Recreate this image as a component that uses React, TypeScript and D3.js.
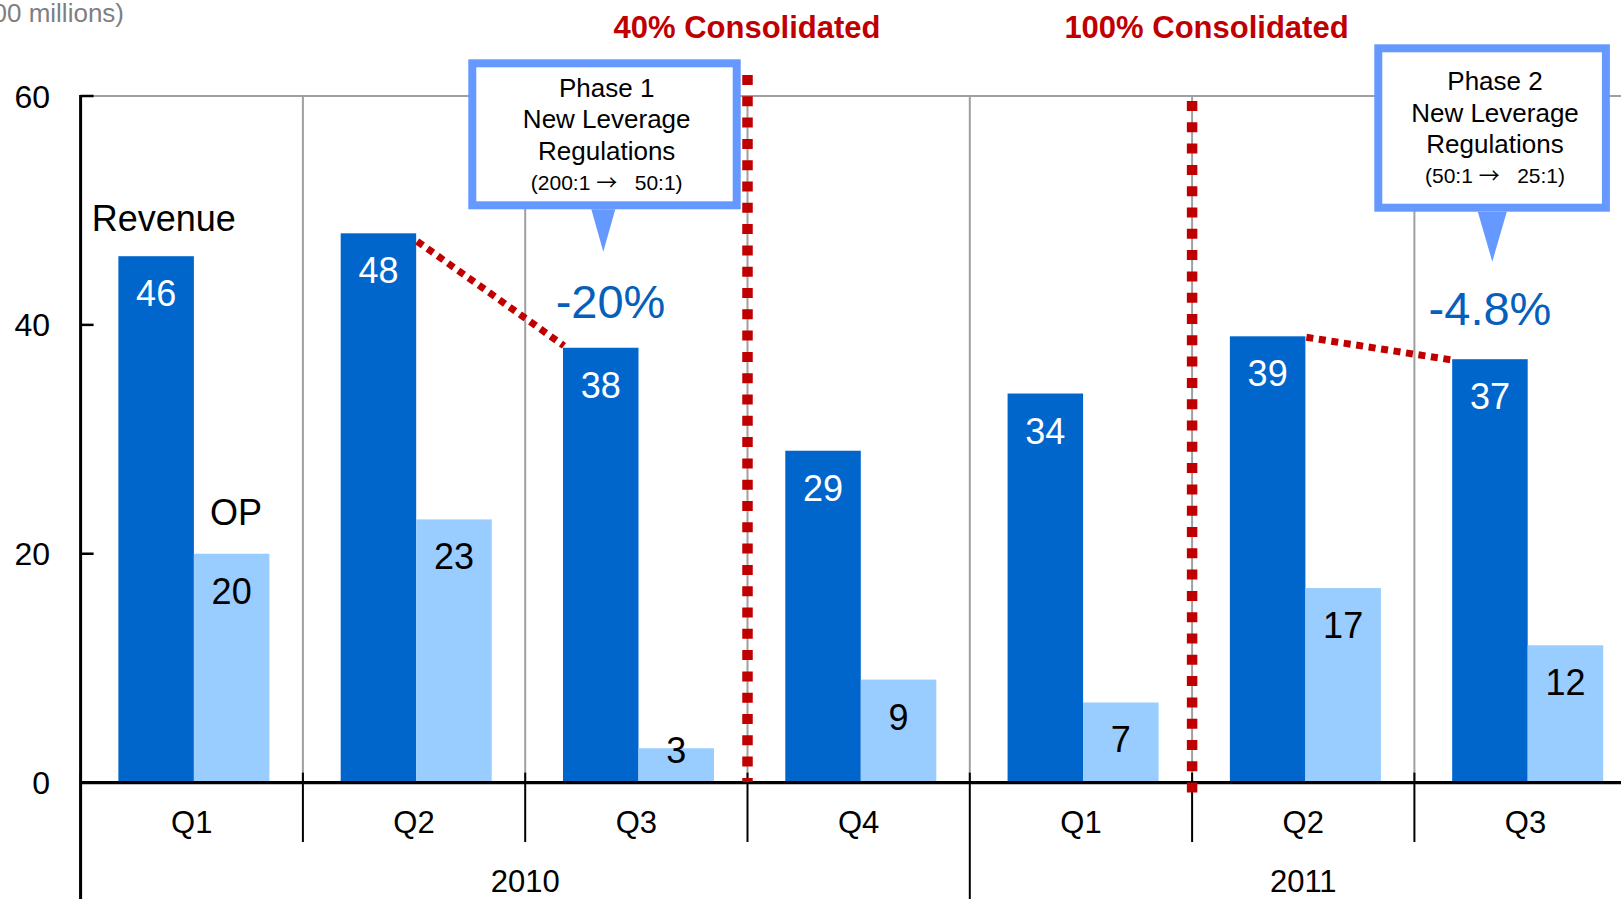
import * as d3 from "d3";

const QUARTERS = ["Q1", "Q2", "Q3", "Q4", "Q1", "Q2", "Q3"];
const YEARS = ["2010", "2011"];
const YEAR_SPANS = [4, 3]; // quarters per year
const REVENUE = [46, 48, 38, 29, 34, 39, 37];
const OP = [20, 23, 3, 9, 7, 17, 12];
const Y_TICKS = [0, 20, 40, 60];
const CHANGES = [
  { from: 1, to: 2, label: "-20%" },
  { from: 5, to: 6, label: "-4.8%" },
];
const CONSOLIDATION = [
  { at: 3, label: "40% Consolidated" },
  { at: 5, label: "100% Consolidated" },
];
const PHASES = [
  { title: "Phase 1", from: "(200:1 ", to: "   50:1)" },
  { title: "Phase 2", from: "(50:1 ", to: "   25:1)" },
];

const W = 1621, H = 899;
const FONT = "'Liberation Sans', Arial, sans-serif";
const REV_C = "#0066CC", OP_C = "#99CCFF", RED = "#C00000", CALLOUT = "#6699FF", PCT = "#0560BC";
const GRID = "#A0A0A0";

export default function App() {
  const left = 80.6, step = 222.3;
  const idx = QUARTERS.map((_q, i) => String(i));
  const x = d3.scaleBand<string>().domain(idx).range([left, left + step * QUARTERS.length]).padding(0);
  const xs = d3.scaleBand<string>().domain(["rev", "op"]).range([0, x.bandwidth()])
    .paddingInner(0).paddingOuter(0.472).align(0.53);
  const y = d3.scaleLinear().domain([0, 60]).range([782.6, 96]);
  const bx = (i: number) => x(String(i)) ?? 0;
  const y0 = y(0);

  // callout boxes (outer bounds) and pointer tips
  const boxes = [
    { x0: 468.3, x1: 740.7, y0: 59.3, y1: 209.3, tx: 606.7, tip: [603.3, 251.7], tw: 12, base: [96.7, 128.3, 160, 190] },
    { x0: 1374.3, x1: 1609.9, y0: 44.3, y1: 211.7, tx: 1495, tip: [1492.3, 261.7], tw: 14.5, base: [90, 121.7, 153.3, 183.3] },
  ];
  const pctPos = [
    { cx: 610.5, by: 318, dy0: 8, dy1: -2 },
    { cx: 1490, by: 325, dy0: 1, dy1: 1 },
  ];
  const consolidationY = [
    { top: 75, bottom: 782, tx: 747 },
    { top: 101, bottom: 796, tx: 1206.5 },
  ];

  let acc = 0;
  const yearBounds = YEARS.map((yr, k) => {
    const s = acc;
    acc += YEAR_SPANS[k];
    return { yr, x0: bx(s), x1: bx(s) + step * YEAR_SPANS[k] };
  });

  return (
    <>
      <style>{`body{margin:0;overflow:hidden}`}</style>
      <svg width={W} height={H} style={{ display: "block", background: "#fff" }} fontFamily={FONT}>
        {/* unit label (cut off at the left edge, as in the source) */}
        <text x={124} y={21.7} fontSize={26} fill="#7F7F7F" textAnchor="end">(100 millions)</text>

        {/* top gridline + category separators */}
        <line x1={left} x2={W} y1={y(60)} y2={y(60)} stroke={GRID} strokeWidth={2} />
        {idx.slice(1).map((k) => (
          <line key={k} x1={x(k)} x2={x(k)} y1={y(60)} y2={y0} stroke={GRID} strokeWidth={2} />
        ))}

        {/* bars */}
        {REVENUE.map((v, i) => (
          <rect key={"r" + i} x={bx(i) + (xs("rev") ?? 0)} width={xs.bandwidth()} y={y(v)} height={y0 - y(v)} fill={REV_C} />
        ))}
        {OP.map((v, i) => (
          <rect key={"o" + i} x={bx(i) + (xs("op") ?? 0)} width={xs.bandwidth()} y={y(v)} height={y0 - y(v)} fill={OP_C} />
        ))}
        {REVENUE.map((v, i) => (
          <text key={"rl" + i} x={bx(i) + (xs("rev") ?? 0) + xs.bandwidth() / 2} y={y(v) + 50} fontSize={36} fill="#fff" textAnchor="middle">{v}</text>
        ))}
        {OP.map((v, i) => (
          <text key={"ol" + i} x={bx(i) + (xs("op") ?? 0) + xs.bandwidth() / 2} y={Math.min(y(v) + 50, y0 - 20)} fontSize={36} fill="#000" textAnchor="middle">{v}</text>
        ))}

        {/* series labels */}
        <text x={91.7} y={230.7} fontSize={36} fill="#000">Revenue</text>
        <text x={210} y={525} fontSize={36} fill="#000">OP</text>

        {/* change lines */}
        {CHANGES.map((c, k) => {
          const x1 = bx(c.from) + (xs("rev") ?? 0) + xs.bandwidth() + 1;
          const x2 = bx(c.to) + (xs("rev") ?? 0) + 1;
          return (
            <g key={"c" + k}>
              <line x1={x1} y1={y(REVENUE[c.from]) + pctPos[k].dy0} x2={x2} y2={y(REVENUE[c.to]) + pctPos[k].dy1} stroke={RED} strokeWidth={7} strokeDasharray="7 5.6" />
              <text x={pctPos[k].cx} y={pctPos[k].by} fontSize={47} fill={PCT} textAnchor="middle">{c.label}</text>
            </g>
          );
        })}

        {/* axes */}
        <line x1={left} x2={left} y1={y(60) - 1} y2={H} stroke="#000" strokeWidth={3} />
        {Y_TICKS.map((t) => (
          <g key={"t" + t}>
            {t > 0 && <line x1={left} x2={left + 13} y1={y(t)} y2={y(t)} stroke="#000" strokeWidth={2.5} />}
            <text x={50} y={y(t) + 11.5} fontSize={32} textAnchor="end" fill="#000">{t}</text>
          </g>
        ))}
        <line x1={left} x2={W} y1={y0} y2={y0} stroke="#000" strokeWidth={3.3} />
        {idx.map((k) => (
          <line key={"qs" + k} x1={x(k)} x2={x(k)} y1={y0 - 10} y2={842} stroke="#000" strokeWidth={2} />
        ))}
        {QUARTERS.map((q, i) => (
          <text key={"q" + i} x={bx(i) + step / 2} y={832.7} fontSize={31} textAnchor="middle" fill="#000">{q}</text>
        ))}
        {yearBounds.map((b) => (
          <g key={b.yr}>
            <line x1={b.x0} x2={b.x0} y1={842} y2={H} stroke="#000" strokeWidth={2} />
            <text x={(b.x0 + b.x1) / 2} y={892} fontSize={31} textAnchor="middle" fill="#000">{b.yr}</text>
          </g>
        ))}

        {/* consolidation markers */}
        {CONSOLIDATION.map((c, k) => (
          <g key={"cs" + k}>
            <line x1={bx(c.at)} x2={bx(c.at)} y1={consolidationY[k].top} y2={consolidationY[k].bottom} stroke={RED} strokeWidth={10.5} strokeDasharray="10 11.3" />
            <text x={consolidationY[k].tx} y={38.3} fontSize={31} fontWeight="bold" fill={RED} textAnchor="middle">{c.label}</text>
          </g>
        ))}

        {/* callouts */}
        {PHASES.map((p, k) => {
          const b = boxes[k];
          return (
            <g key={"p" + k}>
              <rect x={b.x0 + 4} y={b.y0 + 4} width={b.x1 - b.x0 - 8} height={b.y1 - b.y0 - 8} fill="#fff" stroke={CALLOUT} strokeWidth={8} />
              <path d={`M${b.tip[0] - b.tw},${b.y1} L${b.tip[0] + b.tw},${b.y1} L${b.tip[0]},${b.tip[1]} Z`} fill={CALLOUT} />
              <text x={b.tx} y={b.base[0]} fontSize={26} textAnchor="middle" fill="#000">{p.title}</text>
              <text x={b.tx} y={b.base[1]} fontSize={26} textAnchor="middle" fill="#000">New Leverage</text>
              <text x={b.tx} y={b.base[2]} fontSize={26} textAnchor="middle" fill="#000">Regulations</text>
              <text x={b.tx} y={b.base[3]} fontSize={21} textAnchor="middle" fill="#000" style={{ whiteSpace: "pre" }}>
                {p.from}
                <tspan fontFamily="'Noto Sans CJK JP', 'DejaVu Sans', sans-serif">{"\u2192"}</tspan>
                {p.to}
              </text>
            </g>
          );
        })}
      </svg>
    </>
  );
}
